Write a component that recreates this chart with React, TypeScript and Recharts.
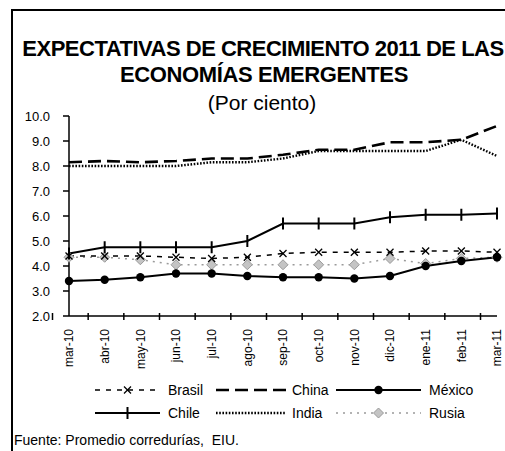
import { ComposedChart, Line, XAxis, YAxis } from "recharts";

const months = ["mar-10", "abr-10", "may-10", "jun-10", "jul-10", "ago-10", "sep-10", "oct-10", "nov-10", "dic-10", "ene-11", "feb-11", "mar-11"];
const brasil = [4.4, 4.4, 4.4, 4.35, 4.3, 4.35, 4.5, 4.55, 4.55, 4.55, 4.6, 4.6, 4.55];
const china = [8.15, 8.2, 8.15, 8.2, 8.3, 8.3, 8.45, 8.65, 8.65, 8.95, 8.95, 9.05, 9.6];
const mexico = [3.4, 3.45, 3.55, 3.7, 3.7, 3.6, 3.55, 3.55, 3.5, 3.6, 4.0, 4.2, 4.35];
const chile = [4.5, 4.75, 4.75, 4.75, 4.75, 5.0, 5.7, 5.7, 5.7, 5.95, 6.05, 6.05, 6.1];
const india = [8.0, 8.0, 8.0, 8.0, 8.15, 8.15, 8.3, 8.6, 8.6, 8.6, 8.6, 9.05, 8.4];
const rusia = [4.35, 4.35, 4.25, 4.05, 4.05, 4.05, 4.05, 4.05, 4.05, 4.3, 4.1, 4.3, 4.35];
const yTicks = [2, 3, 4, 5, 6, 7, 8, 9, 10];
const legendRows = [["Brasil", "China", "México"], ["Chile", "India", "Rusia"]];

const data = months.map((m, i) => ({
  m,
  Brasil: brasil[i],
  China: china[i],
  México: mexico[i],
  Chile: chile[i],
  India: india[i],
  Rusia: rusia[i],
}));

const FONT = "'Liberation Sans', Arial, sans-serif";
const RUS_GREY = "#9a9a9a";

// markers
const xMark = (cx: number, cy: number, k?: any) => (
  <g key={k}>
    <line x1={cx - 3.5} y1={cy - 3.5} x2={cx + 3.5} y2={cy + 3.5} stroke="#000" strokeWidth={1.3} />
    <line x1={cx - 3.5} y1={cy + 3.5} x2={cx + 3.5} y2={cy - 3.5} stroke="#000" strokeWidth={1.3} />
  </g>
);
const plusMark = (cx: number, cy: number, k?: any) => (
  <line key={k} x1={cx} y1={cy - 6} x2={cx} y2={cy + 6} stroke="#000" strokeWidth={2} />
);
const dotMark = (cx: number, cy: number, k?: any) => <circle key={k} cx={cx} cy={cy} r={4.2} fill="#000" />;
const diamondMark = (cx: number, cy: number, k?: any) => (
  <path key={k} d={`M${cx},${cy - 5}L${cx + 5},${cy}L${cx},${cy + 5}L${cx - 5},${cy}Z`} fill="#c4c4c4" stroke={RUS_GREY} strokeWidth={1} />
);

const styles: Record<string, { stroke: string; width: number; dash?: string; mark?: (x: number, y: number, k?: any) => any }> = {
  Brasil: { stroke: "#000", width: 1.5, dash: "5 6", mark: xMark },
  China: { stroke: "#000", width: 2.6, dash: "13 6" },
  México: { stroke: "#000", width: 2, mark: dotMark },
  Chile: { stroke: "#000", width: 2, mark: plusMark },
  India: { stroke: "#000", width: 2.4, dash: "1.6 1.6" },
  Rusia: { stroke: RUS_GREY, width: 1.5, dash: "2 5", mark: diamondMark },
};

const MonthTick = (props: any) => {
  const { x, y, payload, index } = props;
  const half = payload?.offset || 16.5;
  const ty = y + 13;
  return (
    <g>
      <line x1={x - half} x2={x - half} y1={y - 3} y2={y + 4} stroke="#000" strokeWidth={1.5} />
      {index === months.length - 1 && <line x1={x + half} x2={x + half} y1={y - 3} y2={y + 4} stroke="#000" strokeWidth={1.5} />}
      <text x={x + 4.3} y={ty} transform={`rotate(-90, ${x + 4.3}, ${ty})`} textAnchor="end" fontSize={12} fontFamily={FONT} fill="#000">
        {payload.value}
      </text>
    </g>
  );
};

const colX = [{ s: 95, e: 160, t: 168 }, { s: 216, e: 286, t: 292 }, { s: 336, e: 421, t: 429 }];
const rowY = [390, 413];

function LegendBox() {
  return (
    <svg width={505} height={451} style={{ position: "absolute", left: 0, top: 0, pointerEvents: "none" }}>
      {legendRows.map((row, r) =>
        row.map((name, c) => {
          const st = styles[name];
          const { s, e, t } = colX[c];
          const y = rowY[r];
          return (
            <g key={name}>
              <line x1={s} x2={e} y1={y} y2={y} stroke={st.stroke} strokeWidth={st.width} strokeDasharray={st.dash} />
              {st.mark && st.mark((s + e) / 2, y)}
              <text x={t} y={y + 5} fontSize={14} fontFamily={FONT} fill="#000">{name}</text>
            </g>
          );
        })
      )}
    </svg>
  );
}

export default function App() {
  const names = ["Rusia", "Brasil", "India", "China", "Chile", "México"];
  return (
    <div style={{ position: "absolute", left: 0, top: 0, width: 505, height: 451, background: "#fff", fontFamily: FONT, overflow: "hidden" }}>
      <div style={{ position: "absolute", left: 11, top: 9, width: 500, height: 450, borderLeft: "2px solid #000", borderTop: "2px solid #000" }} />
      <svg width={505} height={120} style={{ position: "absolute", left: 0, top: 0 }}>
        <text x={263} y={56} textAnchor="middle" fontSize={22} fontWeight="bold" letterSpacing={-0.5} fontFamily={FONT}>
          EXPECTATIVAS DE CRECIMIENTO 2011 DE LAS
        </text>
        <text x={264} y={82} textAnchor="middle" fontSize={22} fontWeight="bold" letterSpacing={-0.4} fontFamily={FONT}>
          ECONOMÍAS EMERGENTES
        </text>
        <text x={262} y={110} textAnchor="middle" fontSize={21} fontFamily={FONT}>
          (Por ciento)
        </text>
      </svg>
      <div style={{ position: "absolute", left: 0, top: 0 }}>
        <ComposedChart width={505} height={451} data={data} margin={{ top: 116, right: 8, bottom: 105, left: 0 }}>
          <XAxis
            dataKey="m"
            height={30}
            interval={0}
            tickLine={false}
            tickSize={0}
            tickMargin={0}
            axisLine={{ stroke: "#000", strokeWidth: 1.5 }}
            tick={<MonthTick />}
          />
          <YAxis
            width={69}
            domain={[2, 10]}
            ticks={yTicks}
            interval={0}
            tickFormatter={(v: number) => v.toFixed(1)}
            tickSize={6}
            tickMargin={13}
            axisLine={{ stroke: "#000", strokeWidth: 1.5 }}
            tickLine={{ stroke: "#000", strokeWidth: 1.5 }}
            tick={{ fontSize: 13, fill: "#000", fontFamily: FONT }}
          />
          {names.map((n) => {
            const st = styles[n];
            return (
              <Line
                key={n}
                dataKey={n}
                type="linear"
                stroke={st.stroke}
                strokeWidth={st.width}
                strokeDasharray={st.dash}
                dot={st.mark ? (p: any) => st.mark!(p.cx, p.cy, `${n}-${p.index}`) : false}
                activeDot={false}
                isAnimationActive={false}
              />
            );
          })}
        </ComposedChart>
      </div>
      <LegendBox />
      <div style={{ position: "absolute", left: 14, top: 432, fontSize: 14, whiteSpace: "pre", color: "#000" }}>
        Fuente: Promedio corredurías,  EIU.
      </div>
    </div>
  );
}
